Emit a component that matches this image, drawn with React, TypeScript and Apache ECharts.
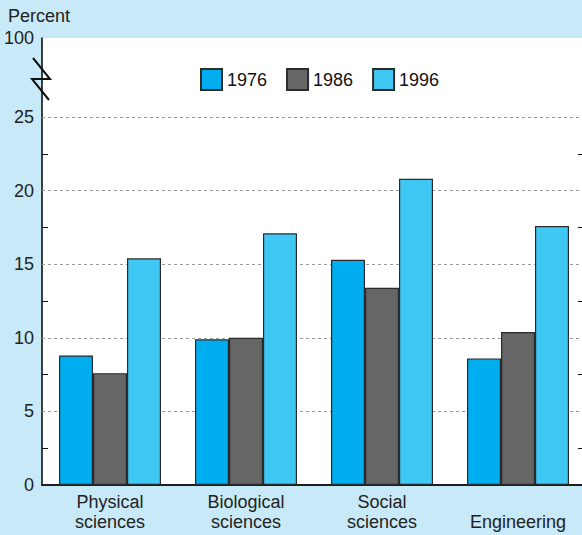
import React, { useEffect, useRef } from "react";
import * as echarts from "echarts";

const categories = ["Physical\nsciences", "Biological\nsciences", "Social\nsciences", "\nEngineering"];
const seriesNames = ["1976", "1986", "1996"];
const v1976 = [8.8, 9.9, 15.3, 8.6];
const v1986 = [7.6, 10.0, 13.4, 10.4];
const v1996 = [15.4, 17.1, 20.8, 17.6];
const gridValues = [5, 10, 15, 20, 25];
const minorTicks = [2.5, 7.5, 12.5, 17.5, 22.5];
const labelValues = [0, 5, 10, 15, 20, 25];
const breakTop = 30.37; // top of the plot, labelled 100 after the axis break
const topLabel = "100";

const FONT = "'Liberation Sans', Arial, Helvetica, sans-serif";
const colors = ["#00aeef", "#666666", "#40c8f4"];

export default function App() {
  const ref = useRef<HTMLDivElement>(null);
  useEffect(() => {
    if (!ref.current) return;
    const chart = echarts.init(ref.current, null, { renderer: "svg" });
    const values = [v1976, v1986, v1996];
    const option: any = {
      animation: false,
      backgroundColor: "#c8e9f8",
      textStyle: { fontFamily: FONT },
      grid: {
        left: 42,
        top: 38,
        right: 0,
        bottom: 50,
        show: true,
        backgroundColor: "#ffffff",
        borderWidth: 0,
      },
      legend: {
        left: 200,
        top: 68,
        padding: 0,
        itemWidth: 21,
        itemHeight: 21,
        itemGap: 19,
        icon: "rect",
        textStyle: { fontSize: 18, color: "#111", fontFamily: FONT },
        data: seriesNames,
      },
      xAxis: [
        {
          type: "category",
          data: categories,
          position: "bottom",
          axisLine: { show: true, lineStyle: { color: "#111", width: 1.6 } },
          axisTick: { show: false },
          axisLabel: {
            fontSize: 18,
            color: "#222",
            lineHeight: 20,
            margin: 7,
            fontFamily: FONT,
          },
          splitLine: { show: false },
        },
        {
          type: "category",
          data: categories,
          position: "top",
          axisLine: { show: true, lineStyle: { color: "#111", width: 1.6 } },
          axisTick: { show: false },
          axisLabel: { show: false },
          splitLine: { show: false },
        },
      ],
      yAxis: [
        {
          type: "value",
          min: 0,
          max: breakTop,
          interval: 5,
          position: "left",
          axisLine: { show: true, lineStyle: { color: "#111", width: 1.6 } },
          axisTick: {
            show: true,
            inside: true,
            length: 6,
            customValues: minorTicks,
            lineStyle: { color: "#111", width: 1 },
          },
          axisLabel: {
            show: true,
            customValues: [...labelValues, breakTop],
            formatter: (v: number) => (v > 26 ? topLabel : String(v)),
            fontSize: 18,
            color: "#222",
            margin: 8,
            fontFamily: FONT,
          },
          splitLine: { show: false },
        },
        {
          type: "value",
          min: 0,
          max: breakTop,
          interval: 5,
          position: "right",
          axisLine: { show: false },
          axisTick: {
            show: true,
            inside: true,
            length: 8,
            customValues: minorTicks,
            lineStyle: { color: "#111", width: 1 },
          },
          axisLabel: { show: false },
          splitLine: { show: false },
        },
      ],
      series: seriesNames.map((name, i) => ({
        name,
        type: "bar",
        data: values[i],
        xAxisIndex: 0,
        yAxisIndex: 0,
        barGap: "0%",
        barCategoryGap: "25%",
        itemStyle: { color: colors[i], borderColor: "#2b2b2b", borderWidth: 1.2 },
        ...(i === 0
          ? {
              markLine: {
                z: 1,
                silent: true,
                symbol: ["none", "none"],
                label: { show: false },
                lineStyle: { color: "#9a9a9a", type: [3, 3], width: 1 },
                data: gridValues.map((v) => ({ yAxis: v })),
              },
            }
          : {}),
      })),
      graphic: [
        {
          type: "text",
          left: 8,
          top: 7,
          style: { text: "Percent", fontSize: 18, fill: "#222", fontFamily: FONT },
        },
        {
          type: "polyline",
          shape: { points: [[33, 58], [50, 79], [32, 79], [49, 100]] },
          style: { stroke: "#111", lineWidth: 2, fill: "none" },
          z: 100,
        },
      ],
    };
    chart.setOption(option);
    return () => chart.dispose();
  }, []);
  return (
    <div
      style={{
        position: "fixed",
        left: 0,
        top: 0,
        width: 582,
        height: 535,
        overflow: "hidden",
        background: "#c8e9f8",
      }}
    >
      <div ref={ref} style={{ width: 586, height: 535 }} />
    </div>
  );
}
